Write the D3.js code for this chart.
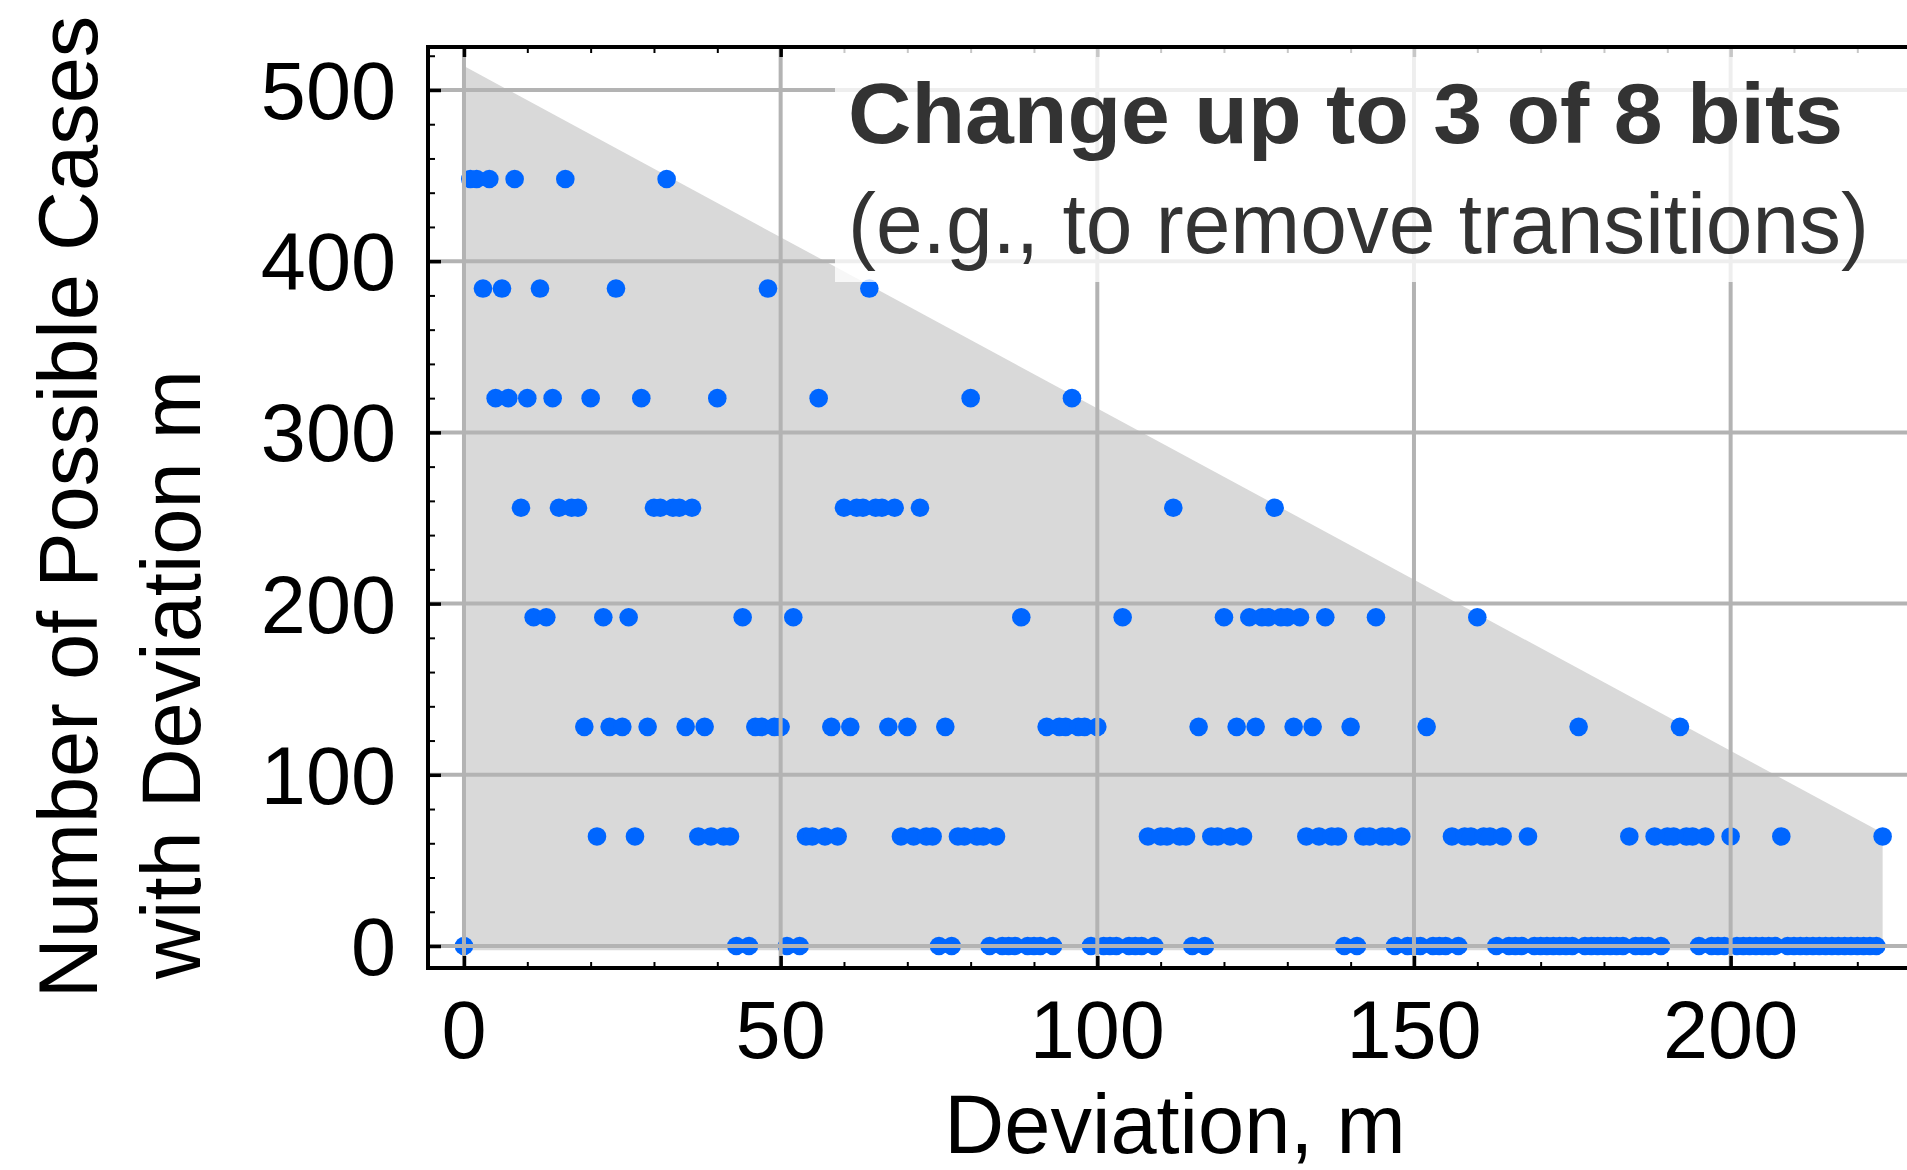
<!DOCTYPE html>
<html><head><meta charset="utf-8">
<script src="https://cdn.jsdelivr.net/npm/d3@7"></script>
<style>body{margin:0;background:#fff;} svg{display:block;}</style>
</head><body>
<svg id="c" width="1907" height="1170"></svg>
<script>
// Deviation m (x) and number of possible cases with that deviation (y)
const deviations = [
  0,1,2,3,4,5,6,7,8,9,10,11,12,13,14,15,16,17,18,19,
  20,21,22,23,24,25,26,27,28,29,30,31,32,33,34,35,36,37,38,39,
  40,41,42,43,44,45,46,47,48,49,50,51,52,53,54,55,56,57,58,59,
  60,61,62,63,64,65,66,67,68,69,70,71,72,73,74,75,76,77,78,79,
  80,81,82,83,84,85,86,87,88,89,90,91,92,93,94,95,96,97,98,99,
  100,101,102,103,104,105,106,107,108,109,110,111,112,113,114,115,116,117,118,119,
  120,121,122,123,124,125,126,127,128,129,130,131,132,133,134,135,136,137,138,139,
  140,141,142,143,144,145,146,147,148,149,150,151,152,153,154,155,156,157,158,159,
  160,161,162,163,164,165,166,167,168,169,170,171,172,173,174,175,176,177,178,179,
  180,181,182,183,184,185,186,187,188,189,190,191,192,193,194,195,196,197,198,199,
  200,201,202,203,204,205,206,207,208,209,210,211,212,213,214,215,216,217,218,219,
  220,221,222,223,224
];
const counts = [
  0,448,448,384,448, 320,384,320,448,256, 320,192,384,192,320, 256,448,256,256,128,
  320,64,192,128,384, 128,192,64,320,128, 256,256,448,256,256, 128,256,64,128,64,
  320,64,64,0,192, 0,128,128,384,128, 128,0,192,0,64, 64,320,64,128,64,
  256,128,256,256,384, 256,256,128,256,64, 128,64,256,64,64, 0,128,0,64,64,
  320,64,64,0,64, 0,0,0,192,0, 0,0,128,0,128, 128,320,128,128,0,
  128,0,0,0,192, 0,0,0,64,0, 64,64,256,64,64, 0,128,0,64,64,
  192,64,128,64,192, 128,192,192,256,192, 192,128,192,64,128, 64,192,64,64,0,
  128,0,64,64,192, 64,64,0,64,0, 0,0,128,0,0, 0,64,0,64,64,
  192,64,64,0,64, 0,0,0,64,0, 0,0,0,0,0, 0,128,0,0,0,
  0,0,0,0,64, 0,0,0,64,0, 64,64,128,64,64, 0,64,0,0,0,
  64,0,0,0,0, 0,0,0,64,0, 0,0,0,0,0, 0,0,0,0,0,
  0,0,0,0,64
];

const xTicks = [0,50,100,150,200];
const yTicks = [0,100,200,300,400,500];
const xMinorTicks = [0,10,20,30,40,50,60,70,80,90,100,110,120,130,140,150,160,170,180,190,200,210,220];
const yMinorTicks = [0,20,40,60,80,100,120,140,160,180,200,220,240,260,280,300,320,340,360,380,400,420,440,460,480,500,520];
// shaded envelope of possible cases
const regionX = [0, 224];
const regionTop = [514, 66];
const regionBottom = -2.5;

const titleLine1 = 'Change up to 3 of 8 bits';
const titleLine2 = '(e.g., to remove transitions)';

const svg = d3.select('#c');
const x = d3.scaleLinear().domain([-5.68, 229]).range([428, 1914.3]);
const y = d3.scaleLinear().domain([-12.85, 525.1]).range([968, 47]);

const area = d3.area().x(d=>x(d[0])).y0(y(regionBottom)).y1(d=>y(d[1]));
svg.append('path').datum(regionX.map((v,i)=>[v,regionTop[i]])).attr('d',area).attr('fill','#d9d9d9');

svg.append('g').selectAll('circle').data(deviations).join('circle')
  .attr('cx',d=>x(d)).attr('cy',(d,i)=>y(counts[i])).attr('r',9.3).attr('fill','#0066ff');

const grid = svg.append('g').attr('stroke','#b3b3b3').attr('stroke-width',4);
xTicks.forEach(t=>grid.append('line').attr('x1',x(t)).attr('x2',x(t)).attr('y1',47).attr('y2',968));
yTicks.forEach(t=>grid.append('line').attr('x1',428).attr('x2',1907).attr('y1',y(t)).attr('y2',y(t)));

function style(g,w){g.select('.domain').remove(); g.selectAll('line').attr('stroke','#000').attr('stroke-width',w);}
svg.append('g').attr('transform','translate(0,968)').call(d3.axisBottom(x).tickValues(xMinorTicks).tickSize(-6).tickFormat('')).call(g=>style(g,2));
svg.append('g').attr('transform','translate(0,47)').call(d3.axisTop(x).tickValues(xMinorTicks).tickSize(-6).tickFormat('')).call(g=>style(g,2));
svg.append('g').attr('transform','translate(428,0)').call(d3.axisLeft(y).tickValues(yMinorTicks).tickSize(-7).tickFormat('')).call(g=>style(g,2));
svg.append('g').attr('transform','translate(0,968)').call(d3.axisBottom(x).tickValues(xTicks).tickSize(-12).tickFormat('')).call(g=>style(g,3.5));
svg.append('g').attr('transform','translate(0,47)').call(d3.axisTop(x).tickValues(xTicks).tickSize(-10).tickFormat('')).call(g=>style(g,3.5));
svg.append('g').attr('transform','translate(428,0)').call(d3.axisLeft(y).tickValues(yTicks).tickSize(-13).tickFormat('')).call(g=>style(g,3.5));

// translucent white label box
svg.append('rect').attr('x',835).attr('y',49).attr('width',1100).attr('height',233).attr('fill','#fff').attr('fill-opacity',0.78);

// frame
const fr = svg.append('g').attr('stroke','#000').attr('stroke-width',4);
fr.append('line').attr('x1',426).attr('x2',1907).attr('y1',47).attr('y2',47);
fr.append('line').attr('x1',426).attr('x2',1907).attr('y1',968).attr('y2',968);
fr.append('line').attr('x1',428).attr('x2',428).attr('y1',45).attr('y2',970);

const F = "'Liberation Sans', Arial, Helvetica, sans-serif";
svg.append('g').selectAll('text').data(xTicks).join('text').attr('x',d=>x(d)).attr('y',1058)
  .attr('text-anchor','middle').attr('font-family',F).attr('font-size',81).attr('fill','#000').text(d=>d);
svg.append('g').selectAll('text').data(yTicks).join('text').attr('x',396).attr('y',d=>y(d)+29)
  .attr('text-anchor','end').attr('font-family',F).attr('font-size',81).attr('fill','#000').text(d=>d);

svg.append('text').attr('x',1175).attr('y',1153).attr('text-anchor','middle').attr('font-family',F).attr('font-size',83).text('Deviation, m');
svg.append('text').attr('transform','translate(97,507) rotate(-90)').attr('text-anchor','middle').attr('font-family',F).attr('font-size',83).text('Number of Possible Cases');
svg.append('text').attr('transform','translate(200,979) rotate(-90)').attr('text-anchor','start').attr('font-family',F).attr('font-size',83).text('with Deviation m');

svg.append('text').attr('x',848).attr('y',143).attr('font-family',F).attr('font-weight','bold').attr('font-size',86)
  .attr('fill','#333').attr('textLength',995).attr('lengthAdjust','spacingAndGlyphs').text(titleLine1);
svg.append('text').attr('x',848).attr('y',253).attr('font-family',F).attr('font-size',86)
  .attr('fill','#333').attr('textLength',1021).attr('lengthAdjust','spacingAndGlyphs').text(titleLine2);
</script>
</body></html>
